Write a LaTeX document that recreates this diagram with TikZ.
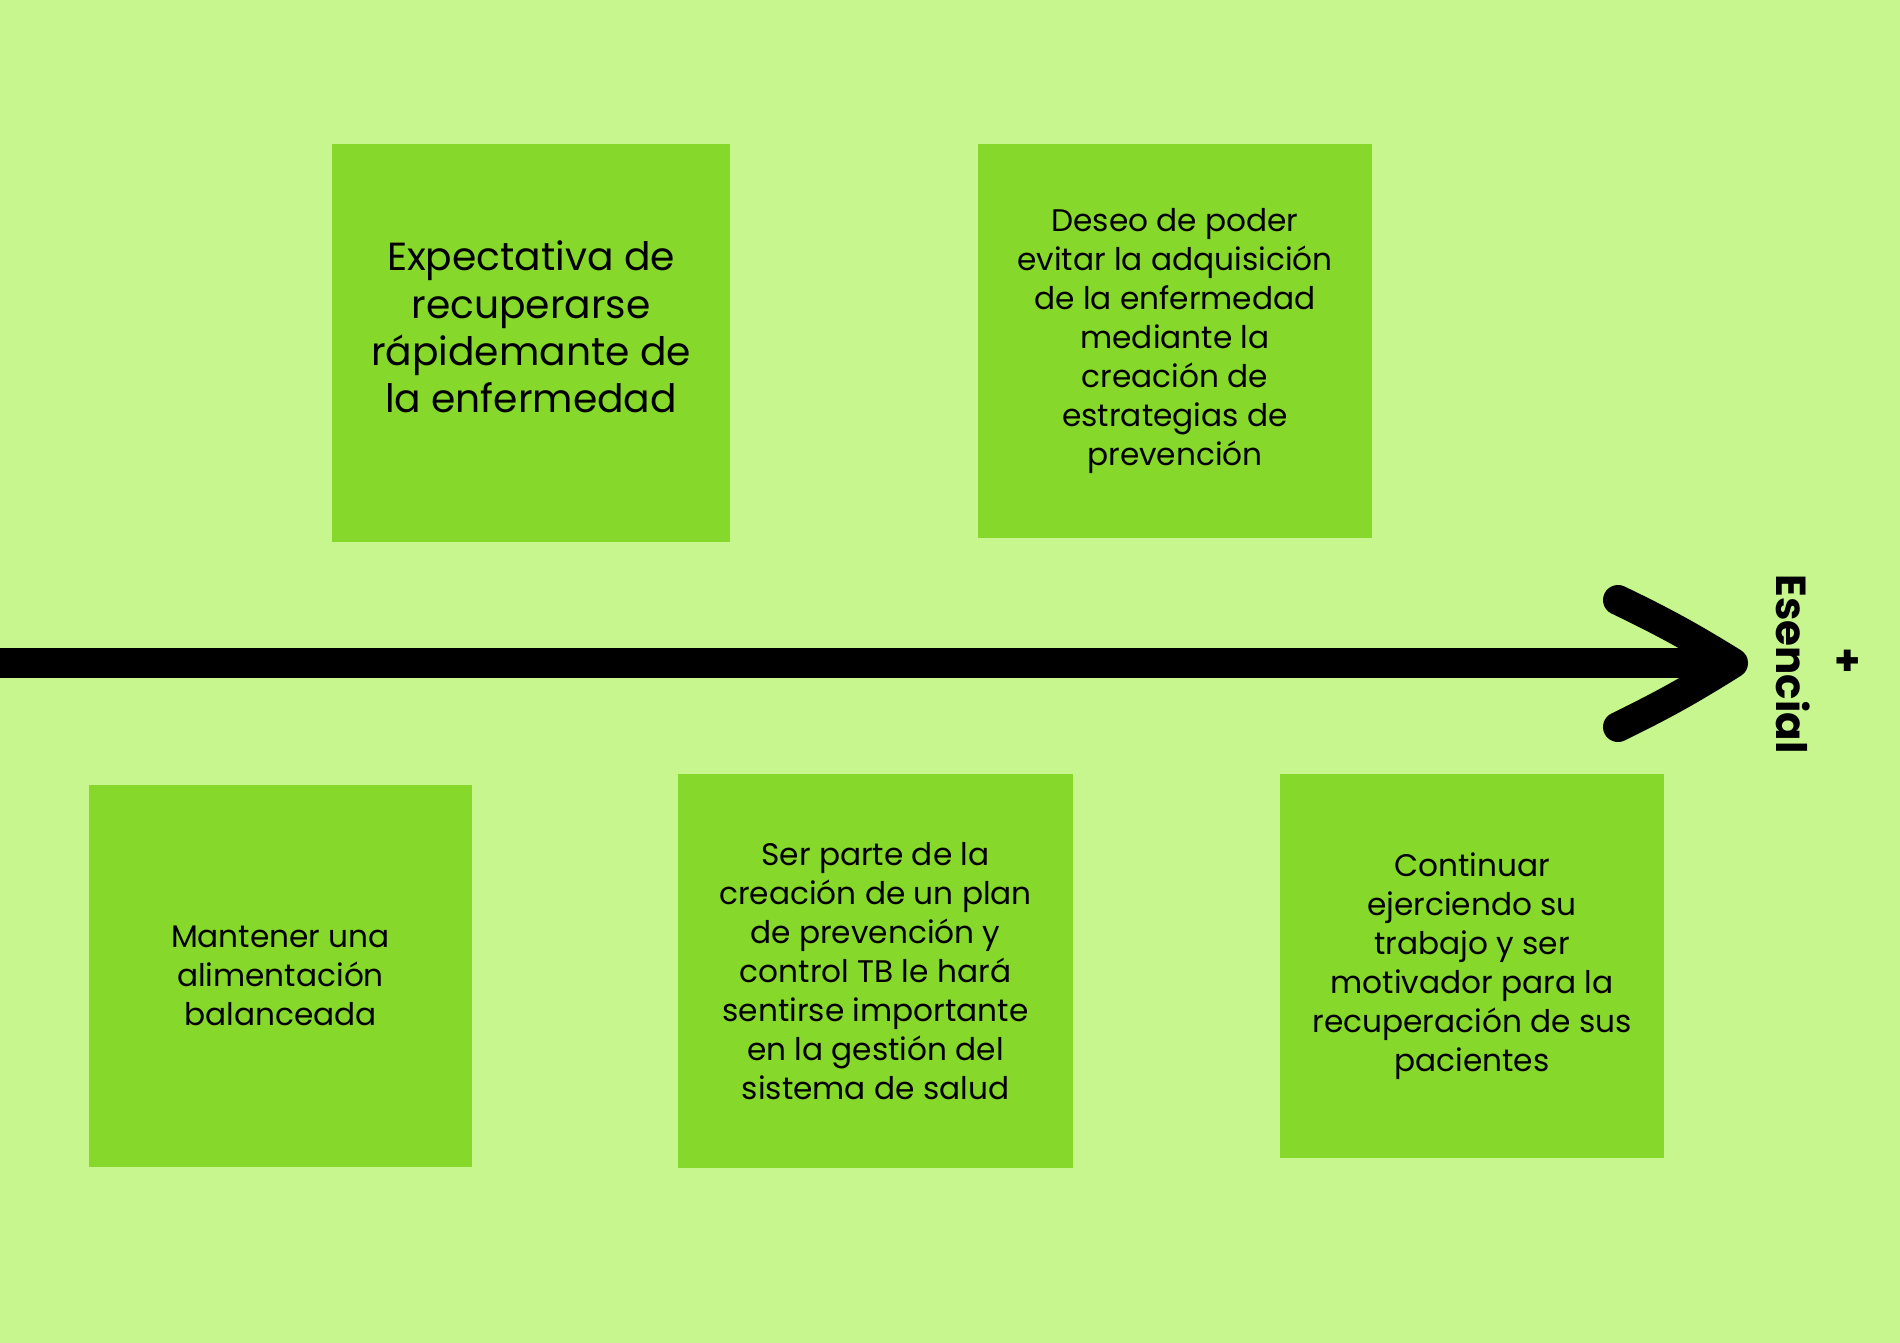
\documentclass[tikz,border=0pt]{standalone}
\usepackage{fontspec}
\setmainfont{Poppins}
\usetikzlibrary{positioning}
\definecolor{bgcol}{RGB}{198,246,141}
\definecolor{boxcol}{RGB}{134,216,42}

\begin{document}
\begin{tikzpicture}[
  x=0.5pt, y=-0.5pt,
  panel/.style={fill=boxcol, align=center, inner sep=0pt,
                font=\fontsize{15.6pt}{19.5pt}\selectfont},
  bigtxt/.style={align=center, inner sep=0pt,
                 font=\fontsize{19.6pt}{23.6pt}\selectfont},
  side/.style={font=\bfseries\fontsize{21pt}{25pt}\selectfont, inner sep=0pt},
  shaft/.style={line width=15pt, line cap=butt},
  barb/.style={line width=15pt, line cap=round, line join=round}]
\fill[bgcol] (0,0) rectangle (1900,1343);
\useasboundingbox (0,0) rectangle (1900,1343);
% top row
\node[panel, minimum width=199pt, minimum height=199pt] (expect) at (531,343) {};
\node[bigtxt] (expecttxt) at ([yshift=8pt]expect.center)
  {Expectativa de\\recuperarse\\rápidemante de\\la enfermedad};
\node[panel, minimum width=197pt, minimum height=197pt] (deseo) at (1175,341)
  {Deseo de poder\\evitar la adquisición\\de la enfermedad\\mediante la\\creación de\\estrategias de\\prevención};
% bottom row
\node[panel, minimum width=191.5pt, minimum height=191pt] (aliment) at (280.5,976)
  {Mantener una\\alimentación\\balanceada};
\node[panel, minimum width=197.5pt, minimum height=197pt] (plan) at (875.5,971)
  {Ser parte de la\\creación de un plan\\de prevención y\\control TB le hará\\sentirse importante\\en la gestión del\\sistema de salud};
\node[panel, minimum width=192pt, minimum height=192pt] (trabajo) at (1472,966)
  {Continuar\\ejerciendo su\\trabajo y ser\\motivador para la\\recuperación de sus\\pacientes};
% axis
\coordinate (tail) at (0,663);
\coordinate (tip) at (1733,663);
\coordinate (barbtop) at (1618,600);
\coordinate (barbbot) at (1618,727);
\draw[shaft] (tail) -- (tip);
\draw[barb] (barbtop) to[bend left=3] (tip) to[bend left=3] (barbbot);
\node[side, rotate=-90] (esencial) at (1793,664) {Esencial};
\node[side] (mas) at (1848,663) {+};
\end{tikzpicture}
\end{document}
